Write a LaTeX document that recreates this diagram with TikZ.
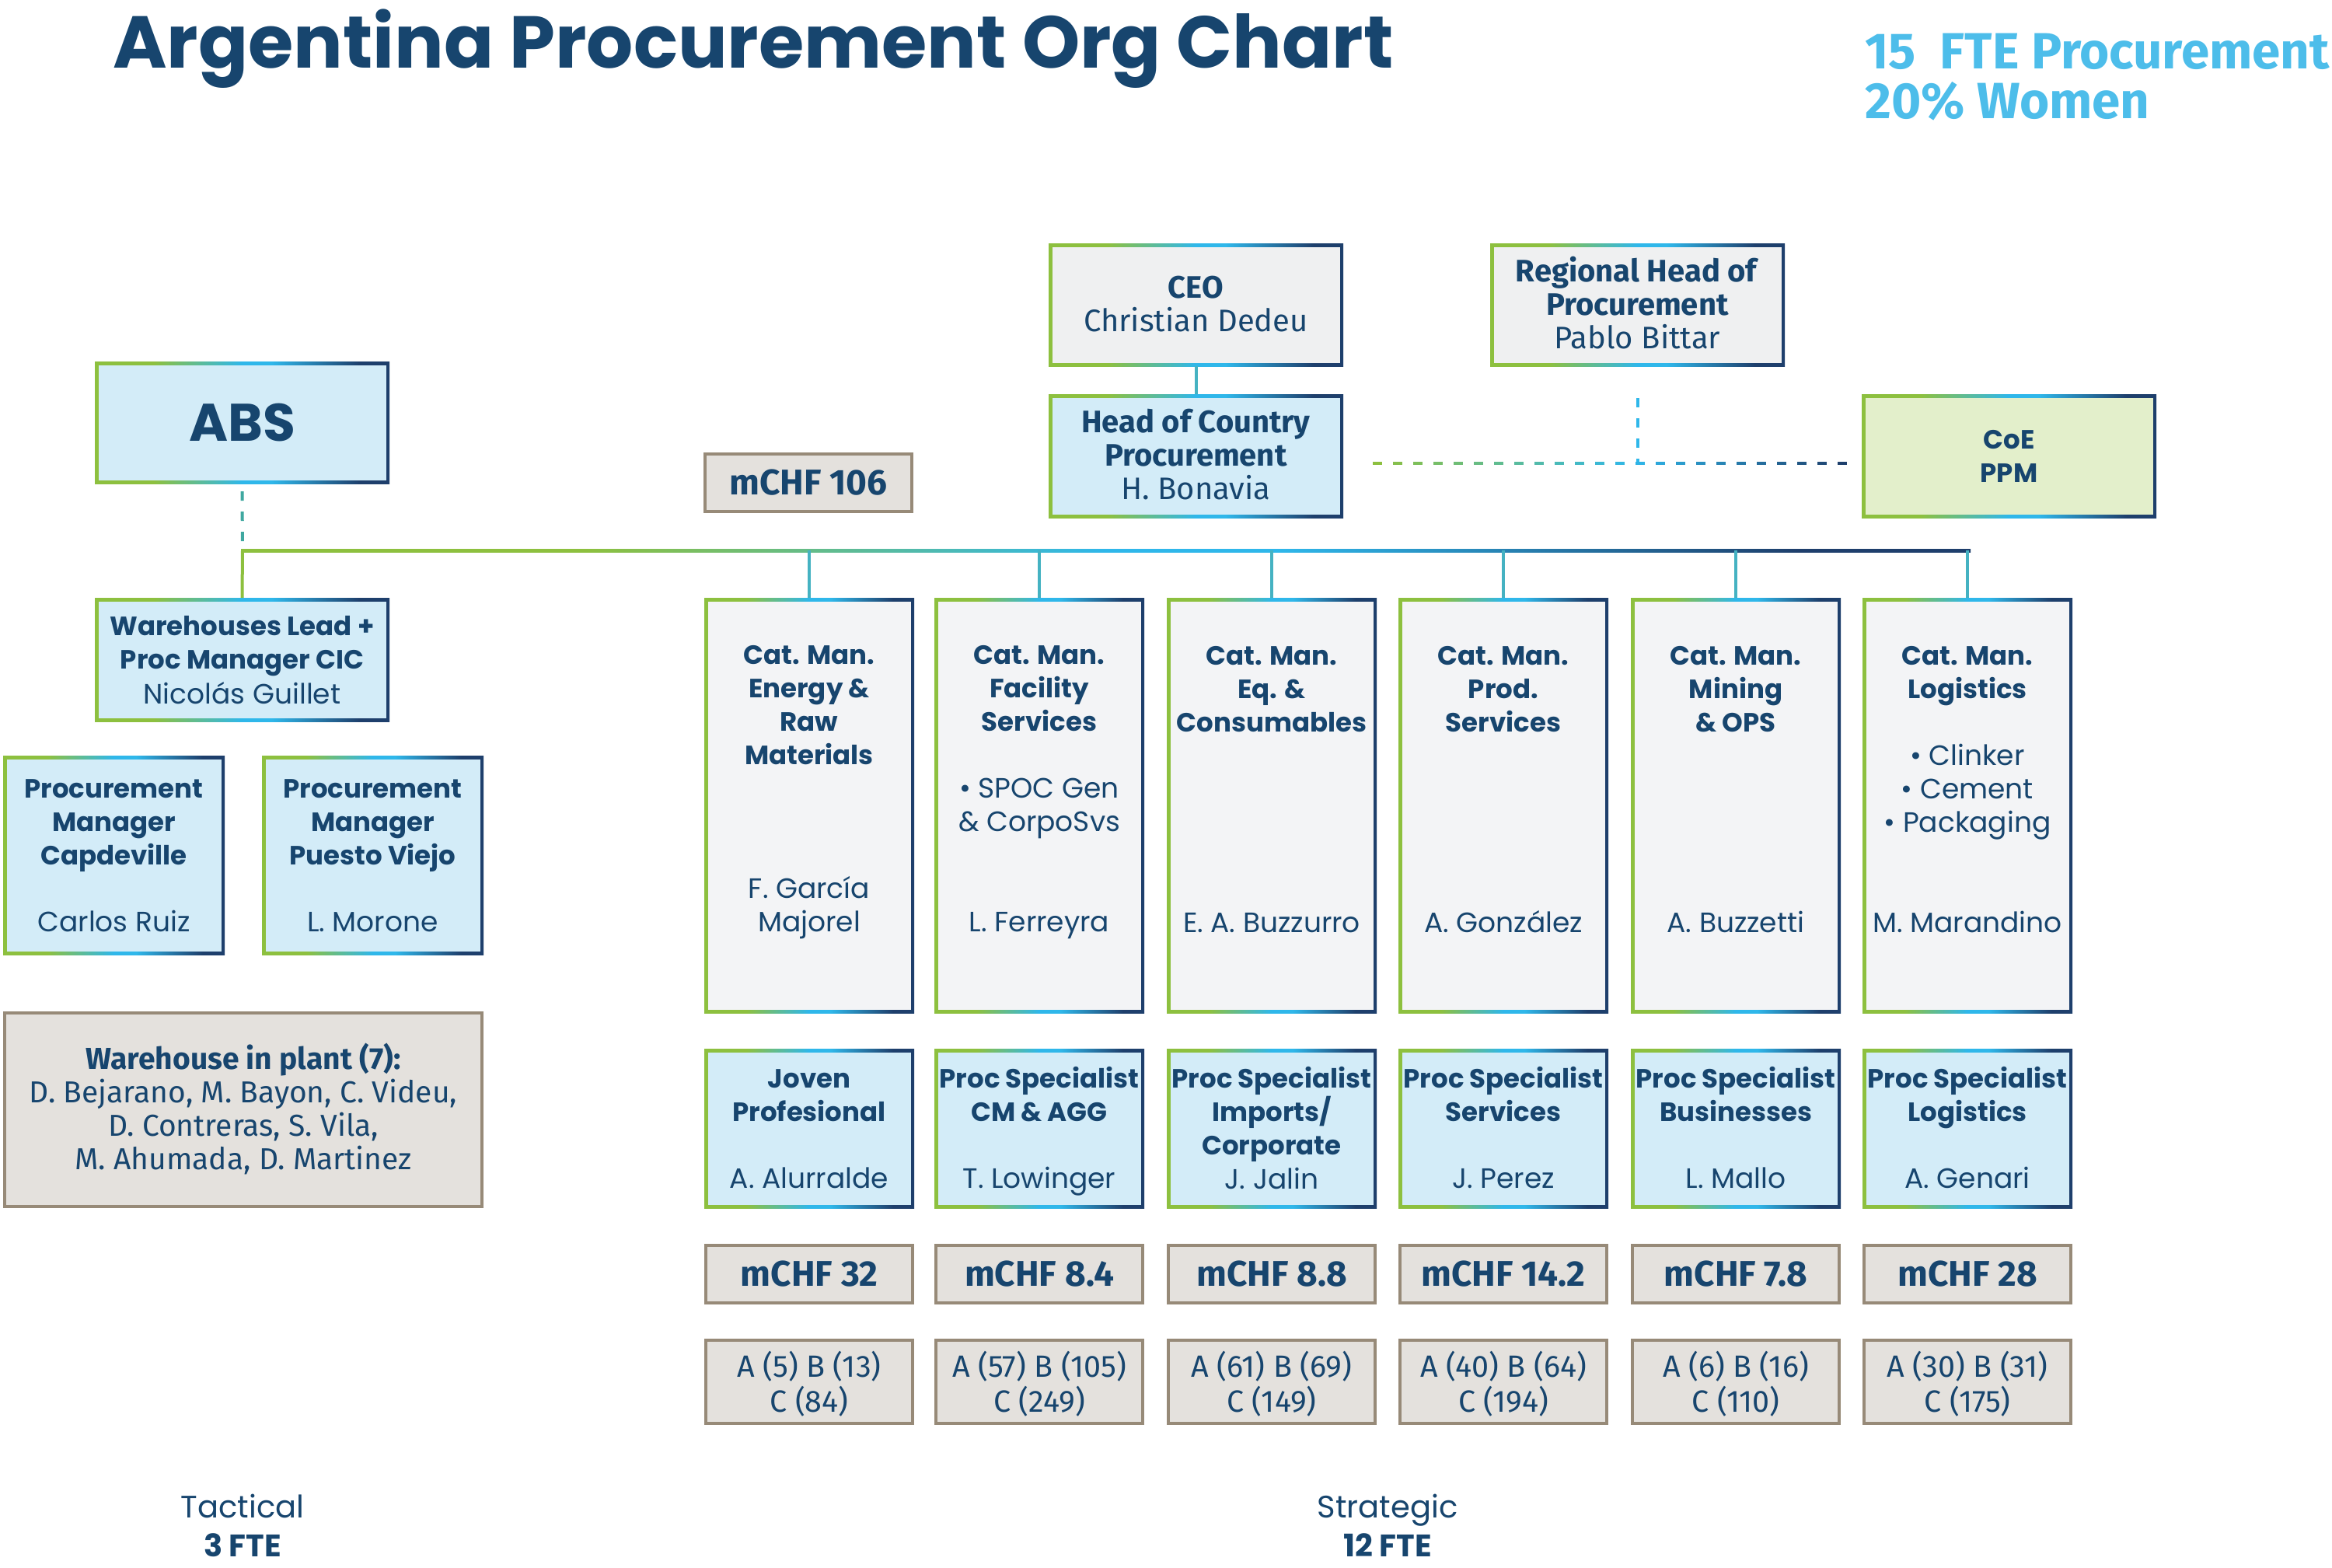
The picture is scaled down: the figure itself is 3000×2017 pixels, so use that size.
\documentclass[tikz,border=0pt]{standalone}
\usepackage{fontspec}
\setmainfont{Poppins}
\newfontfamily\fira{Fira Sans}
\usetikzlibrary{calc}
\definecolor{navy}{HTML}{17456E}
\definecolor{gGreen}{HTML}{8DC03F}
\definecolor{gCyan}{HTML}{2FB7EA}
\definecolor{gNavy}{HTML}{1E3F6C}
\definecolor{lblue}{HTML}{D3ECF8}
\definecolor{lgray}{HTML}{EFF0F1}
\definecolor{cgray}{HTML}{F3F4F6}
\definecolor{lgreen}{HTML}{E3EFCB}
\definecolor{taupe}{HTML}{978A78}
\definecolor{taupefill}{HTML}{E4E1DD}
\definecolor{tcyan}{HTML}{4DBDEA}
\definecolor{dteal}{HTML}{3FA8A0}
\definecolor{dropc}{HTML}{45B2C2}
\pgfdeclarehorizontalshading{gborder}{100bp}{color(0bp)=(gGreen); color(35bp)=(gGreen); color(50bp)=(gCyan); color(55bp)=(gCyan); color(70bp)=(gNavy); color(100bp)=(gNavy)}
\newcommand\mst{\rule[-0.2\baselineskip]{0pt}{\baselineskip}}
\newcommand\mstb{\rule[-0.1\baselineskip]{0pt}{\baselineskip}}
\newcommand\bt[1]{{\fontsize{34}{43}\selectfont\bfseries #1}}
\tikzset{
 gbox/.style={rectangle, inner sep=0pt, shade, shading=gborder, text=navy, align=center,
   path picture={\fill[#1] ([shift={(4.5pt,-4.5pt)}]path picture bounding box.north west) rectangle ([shift={(-4.5pt,4.5pt)}]path picture bounding box.south east);}},
 tbox/.style={rectangle, inner sep=0pt, draw=taupe, line width=4.5pt, fill=taupefill, text=navy, align=center},
 pfont/.style={font=\fontsize{36}{43}\selectfont},
 ffont/.style={font=\fira\fontsize{40}{43}\selectfont},
 cmbox/.style={gbox=cgray, pfont, minimum width=270pt, minimum height=534pt},
 psbox/.style={gbox=lblue, pfont, minimum width=270pt, minimum height=205pt},
 mbox/.style={tbox, font=\fira\bfseries\fontsize{46}{46}\selectfont, minimum width=266pt, minimum height=74pt},
 abcbox/.style={tbox, font=\fira\fontsize{39.5}{43}\selectfont, minimum width=266pt, minimum height=107pt},
 drop/.style={line width=4pt, dropc},
 dsh/.style={line width=4pt, dash pattern=on 12pt off 14pt},
 lbl/.style={anchor=base, inner sep=0pt, text=navy},
}
\begin{document}
\begin{tikzpicture}[x=1pt,y=-1pt]
\useasboundingbox (0,0) rectangle (3000,2017);
% title
\node[anchor=base west, inner sep=0pt, text=navy, font=\bfseries\fontsize{94.5}{95}\selectfont] (title) at (145,88) {Argentina Procurement Org Chart};
\node[anchor=base west, inner sep=0pt, text=tcyan, font=\fira\bfseries\fontsize{65.5}{66}\selectfont] (fte1) at (2399,89) {15\ \ FTE Procurement};
\node[anchor=base west, inner sep=0pt, text=tcyan, font=\fira\bfseries\fontsize{65.5}{66}\selectfont] (fte2) at (2399,153) {20\% Women};
% top boxes
\node[gbox=lgray, ffont, minimum width=379pt, minimum height=157pt] (ceo) at (1538.5,392.5) {\mst\textbf{CEO}\\Christian Dedeu\mst};
\node[gbox=lgray, ffont, minimum width=379pt, minimum height=157pt] (reg) at (2106.5,392.5) {\mst\textbf{Regional Head of}\\\textbf{Procurement}\\Pablo Bittar\mst};
\node[gbox=lblue, ffont, minimum width=379pt, minimum height=159pt] (hoc) at (1538.5,586.5) {\mst\textbf{Head of Country}\\\textbf{Procurement}\\H. Bonavia\mst};
\node[gbox=lgreen, pfont, minimum width=379pt, minimum height=159pt] (coe) at (2584.5,586.5) {\mst\bt{CoE}\\\bt{PPM}\mst};
\node[gbox=lblue, font=\bfseries\fontsize{68}{70}\selectfont, minimum width=379pt, minimum height=157pt] (abs) at (311.5,543.5) {ABS};
\node[mbox] (m106) at (1040,621) {mCHF 106};
% left side
\node[gbox=lblue, pfont, minimum width=379pt, minimum height=159pt] (wl) at (311.5,848.5) {\mst\bt{Warehouses Lead +}\\\bt{Proc Manager CIC}\\Nicolás Guillet\mst};
\node[gbox=lblue, pfont, minimum width=285pt, minimum height=256pt] (cap) at (146.5,1100) {\mst\bt{Procurement}\\\bt{Manager}\\\bt{Capdeville}\\~\\Carlos Ruiz\mst};
\node[gbox=lblue, pfont, minimum width=285pt, minimum height=256pt] (pv) at (479.5,1100) {\mst\bt{Procurement}\\\bt{Manager}\\\bt{Puesto Viejo}\\~\\L. Morone\mst};
\node[tbox, font=\fira\fontsize{39}{43}\selectfont, minimum width=614pt, minimum height=249pt] (wip) at (313,1427.5) {\mst\textbf{Warehouse in plant (7):}\\D. Bejarano, M. Bayon, C. Videu,\\D. Contreras, S. Vila,\\M. Ahumada, D. Martinez\mst};
% category managers
\node[cmbox] (cm1) at (1041,1036) {\mst\bt{Cat. Man.}\\\bt{Energy \&}\\\bt{Raw}\\\bt{Materials}\\~\\~\\~\\F. García\\Majorel\\~\mst};
\node[cmbox] (cm2) at (1337,1036) {\mst\bt{Cat. Man.}\\\bt{Facility}\\\bt{Services}\\~\\• SPOC Gen\\\& CorpoSvs\\~\\~\\L. Ferreyra\\~\mst};
\node[cmbox] (cm3) at (1636,1036) {\mst\bt{Cat. Man.}\\\bt{Eq. \&}\\\bt{Consumables}\\~\\~\\~\\~\\~\\E. A. Buzzurro\\~\mst};
\node[cmbox] (cm4) at (1934,1036) {\mst\bt{Cat. Man.}\\\bt{Prod.}\\\bt{Services}\\~\\~\\~\\~\\~\\A. González\\~\mst};
\node[cmbox] (cm5) at (2233,1036) {\mst\bt{Cat. Man.}\\\bt{Mining}\\\bt{\& OPS}\\~\\~\\~\\~\\~\\A. Buzzetti\\~\mst};
\node[cmbox] (cm6) at (2531,1036) {\mst\bt{Cat. Man.}\\\bt{Logistics}\\~\\• Clinker\\• Cement\\• Packaging\\~\\~\\M. Marandino\\~\mst};
% specialists
\node[psbox] (ps1) at (1041,1451.5) {\mst\bt{Joven}\\\bt{Profesional}\\~\\A. Alurralde\mst};
\node[psbox] (ps2) at (1337,1451.5) {\mst\bt{Proc Specialist}\\\bt{CM \& AGG}\\~\\T. Lowinger\mst};
\node[psbox] (ps3) at (1636,1451.5) {\mst\bt{Proc Specialist}\\\bt{Imports/}\\\bt{Corporate}\\J. Jalin\mst};
\node[psbox] (ps4) at (1934,1451.5) {\mst\bt{Proc Specialist}\\\bt{Services}\\~\\J. Perez\mst};
\node[psbox] (ps5) at (2233,1451.5) {\mst\bt{Proc Specialist}\\\bt{Businesses}\\~\\L. Mallo\mst};
\node[psbox] (ps6) at (2531,1451.5) {\mst\bt{Proc Specialist}\\\bt{Logistics}\\~\\A. Genari\mst};
% spend
\node[mbox] (mc1) at (1041,1639) {mCHF 32};
\node[mbox] (mc2) at (1337,1639) {mCHF 8.4};
\node[mbox] (mc3) at (1636,1639) {mCHF 8.8};
\node[mbox] (mc4) at (1934,1639) {mCHF 14.2};
\node[mbox] (mc5) at (2233,1639) {mCHF 7.8};
\node[mbox] (mc6) at (2531,1639) {mCHF 28};
\node[abcbox] (ab1) at (1041,1777.5) {\mstb A (5) B (13)\\C (84)\mstb};
\node[abcbox] (ab2) at (1337,1777.5) {\mstb A (57) B (105)\\C (249)\mstb};
\node[abcbox] (ab3) at (1636,1777.5) {\mstb A (61) B (69)\\C (149)\mstb};
\node[abcbox] (ab4) at (1934,1777.5) {\mstb A (40) B (64)\\C (194)\mstb};
\node[abcbox] (ab5) at (2233,1777.5) {\mstb A (6) B (16)\\C (110)\mstb};
\node[abcbox] (ab6) at (2531,1777.5) {\mstb A (30) B (31)\\C (175)\mstb};
% bottom labels
\node[lbl, font=\fontsize{40}{40}\selectfont] (tac) at (312,1952) {Tactical};
\node[lbl, font=\bfseries\fontsize{40}{40}\selectfont] (tac2) at (312,2002) {3 FTE};
\node[lbl, font=\fontsize{40}{40}\selectfont] (str) at (1785,1952) {Strategic};
\node[lbl, font=\bfseries\fontsize{40}{40}\selectfont] (str2) at (1785,2002) {12 FTE};
% connectors
\coordinate (busL) at (312,708);
\coordinate (busR) at (2533,708);
\draw[line width=4pt, gGreen] (busL) -- (wl.north);
\shade[shading=gborder] ($(busL)+(-2,-2)$) rectangle ($(busR)+(2,2)$);
\foreach \n in {cm1,cm2,cm3,cm4,cm5,cm6}{\draw[drop] (\n.north |- busL) -- (\n.north);}
\draw[drop] (ceo.south) -- (hoc.north);
\draw[dsh, dteal] ($(abs.south)+(0,10)$) -- (busL);
\coordinate (dl) at ($(hoc.east)+(38,9)$);
\coordinate (dr) at ($(coe.west)+(-23,9)$);
\draw[dsh, gCyan] ($(reg.south)+(0,41)$) -- (reg.south |- dl);
\foreach \i in {0,...,23}{
  \pgfmathsetmacro\f{\i/23}
  \pgfmathsetmacro\pa{min(100,100*\f/0.55)}
  \pgfmathsetmacro\pb{max(0,100*(\f-0.55)/0.45)}
  \draw[line width=4pt, color={gNavy!\pb!gCyan!\pa!gGreen}] ($(dl)+(26*\i,0)$) -- ++(12,0);
}
\end{tikzpicture}
\end{document}
